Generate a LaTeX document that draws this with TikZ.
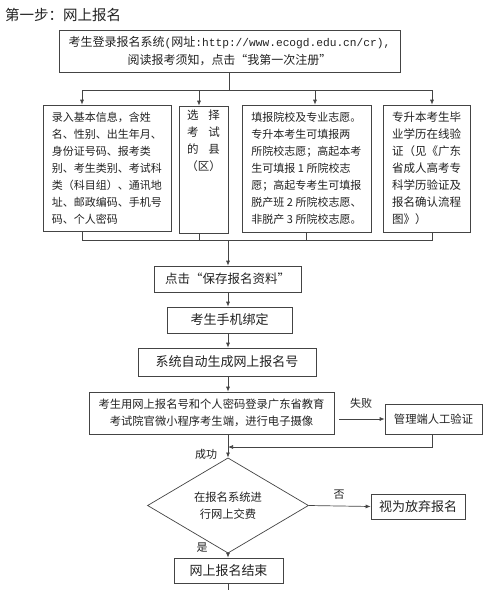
\documentclass[tikz,border=0pt]{standalone}
\usepackage{fontspec}
\setmainfont{Noto Sans CJK SC}
\newfontfamily\monofnt{Liberation Mono}
\usetikzlibrary{arrows.meta,shapes.geometric}
\definecolor{ink}{HTML}{222222}
\definecolor{edge}{HTML}{444444}
\begin{document}
\begin{tikzpicture}[x=1pt,y=-1pt,
  box/.style={draw=edge, line width=0.7pt, inner sep=0pt, text=ink},
  arr/.style={-{Latex[length=5pt,width=4pt]}, line width=0.7pt, draw=edge},
  ln/.style={line width=0.7pt, draw=edge},
  lbl/.style={font=\fontsize{11}{13}\selectfont, inner sep=0pt, text=ink},
  fa/.style={font=\fontsize{11}{17}\selectfont},
  fb/.style={font=\fontsize{11.5}{17}\selectfont},
  fc/.style={font=\fontsize{12.5}{15}\selectfont},
  fd/.style={font=\fontsize{11.3}{17}\selectfont},
]
\useasboundingbox[fill=white] (0,0) rectangle (490,590);

\node[anchor=west, inner sep=0pt, text=ink, font=\fontsize{14.5}{16}\selectfont] (title) at (5,15) {第一步：网上报名};

\node[box, minimum width=341pt, minimum height=42pt, align=center, font=\fontsize{12}{18}\selectfont] (top) at (229.5,51)
  {考生登录报名系统{\monofnt\fontsize{11.2}{18}\selectfont(}网址{\monofnt\fontsize{11.2}{18}\selectfont:http://www.ecogd.edu.cn/cr),}\\阅读报考须知，点击“我第一次注册”};

\node[box, fa, minimum width=128pt, minimum height=126pt, align=left] (b1) at (107,168)
  {录入基本信息，含姓\\名、性别、出生年月、\\身份证号码、报考类\\别、考生类别、考试科\\类（科目组）、通讯地\\址、邮政编码、手机号\\码、个人密码};
\node[box, minimum width=49pt, minimum height=127pt] (b2) at (203.5,169.5) {};
\node[fb, anchor=north, inner sep=0pt, align=center, text=ink] (b2t) at (203.5,110)
  {选\hspace{10pt}择\\考\hspace{10pt}试\\的\hspace{10pt}县\\（区）};
\node[box, fa, minimum width=129pt, minimum height=127pt, align=left] (b3) at (306.5,168.5)
  {填报院校及专业志愿。\\专升本考生可填报两\\所院校志愿；高起本考\\生可填报 1 所院校志\\愿；高起专考生可填报\\脱产班 2 所院校志愿、\\非脱产 3 所院校志愿。};
\node[box, fb, minimum width=87pt, minimum height=127pt, align=left] (b4) at (426.5,168.5)
  {专升本考生毕\\业学历在线验\\证（见《广东\\省成人高考专\\科学历验证及\\报名确认流程\\图》）\hspace{23pt}};

\coordinate (r1) at (229,90);
\coordinate (a1) at (82,90);
\coordinate (a2) at (199,90);
\coordinate (a3) at (315,90);
\coordinate (a4) at (432,90);
\draw[ln] (top.south -| r1) -- (r1);
\draw[ln] (a1) -- (a4);
\draw[arr] (a1) -- (a1 |- b1.north);
\draw[arr] (a2) -- (a2 |- b2.north);
\draw[arr] (a3) -- (a3 |- b3.north);
\draw[arr] (a4) -- (a4 |- b4.north);

\coordinate (c1) at (82,240);
\coordinate (c2) at (199,240);
\coordinate (c3) at (306,240);
\coordinate (c4) at (432,240);
\coordinate (r2) at (228,240);
\draw[ln] (c1 |- b1.south) -- (c1) -- (c4) -- (c4 |- b4.south);
\draw[ln] (c2 |- b2.south) -- (c2);
\draw[ln] (c3 |- b3.south) -- (c3);

\node[box, fc, minimum width=147pt, minimum height=26pt] (save) at (227.5,279) {点击“保存报名资料”};
\node[box, font=\fontsize{13}{15}\selectfont, minimum width=125pt, minimum height=26pt] (phone) at (229.5,320) {考生手机绑定};
\node[box, font=\fontsize{13}{15}\selectfont, minimum width=178pt, minimum height=28pt] (gen) at (227,362) {系统自动生成网上报名号};
\node[box, fd, minimum width=245pt, minimum height=42pt, align=center] (login) at (211.5,413)
  {考生用网上报名号和个人密码登录广东省教育\\考试院官微小程序考生端，进行电子摄像};
\node[box, font=\fontsize{11.3}{13}\selectfont, minimum width=97pt, minimum height=30pt] (manual) at (433.5,419) {管理端人工验证};
\node[box, diamond, minimum width=161pt, minimum height=76pt, fd, align=center] (dia) at (228,505.5)
  {在报名系统进\\行网上交费};
\node[box, font=\fontsize{13}{15}\selectfont, minimum width=94pt, minimum height=25pt] (quit) at (418,506.5) {视为放弃报名};
\node[box, font=\fontsize{13}{15}\selectfont, minimum width=109pt, minimum height=25pt] (end) at (228.5,570.5) {网上报名结束};

\draw[arr] (r2) -- (r2 |- save.north);
\draw[arr] (r2 |- save.south) -- (r2 |- phone.north);
\draw[arr] (r2 |- phone.south) -- (r2 |- gen.north);
\draw[arr] (r2 |- gen.south) -- (r2 |- login.north);

\coordinate (fs) at (339,419);
\draw[arr] (fs) -- (manual.west);
\node[lbl] (fail) at (361,403) {失败};

\coordinate (j) at (228,447);
\coordinate (js) at (432,447);
\draw[arr] (js |- manual.south) -- (js) -- (j);
\draw[arr] (j |- login.south) -- (dia.north);
\node[lbl] (ok) at (206,454) {成功};

\draw[arr] (dia.east) -- (quit.west);
\node[lbl] (no) at (339,495) {否};
\draw[arr] (dia.south) -- (dia.south |- end.north);
\node[lbl] (yes) at (202,548) {是};

\coordinate (bot) at (228,590);
\draw[ln] (end.south -| bot) -- (bot);
\end{tikzpicture}
\end{document}
